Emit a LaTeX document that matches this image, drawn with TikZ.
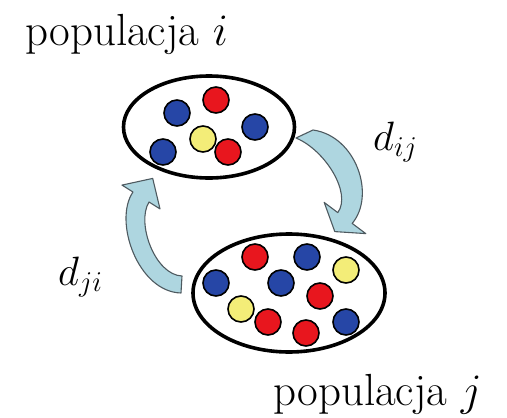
\documentclass[tikz,border=0pt]{standalone}
\usepackage{fix-cm}
\usetikzlibrary{shapes.geometric}
\definecolor{ballblue}{RGB}{38,70,166}
\definecolor{ballred}{RGB}{232,22,30}
\definecolor{ballyellow}{RGB}{243,237,120}
\definecolor{arrowfill}{RGB}{174,214,224}
\definecolor{arrowline}{RGB}{78,90,96}
\tikzset{
  popell/.style={draw=black, line width=3.6pt, ellipse, inner sep=0pt},
  ball/.style={circle, draw=black, line width=1.6pt, minimum size=26pt, inner sep=0pt},
  bb/.style={ball, fill=ballblue},
  br/.style={ball, fill=ballred},
  by/.style={ball, fill=ballyellow},
  flowarrow/.style={fill=arrowfill, draw=arrowline, line width=1.1pt, line join=round},
  poplabel/.style={anchor=base west, inner sep=0pt, font=\fontsize{45}{52}\selectfont},
  ratelabel/.style={anchor=base west, inner sep=0pt, font=\fontsize{41}{48}\selectfont}
}
\begin{document}
\begin{tikzpicture}[x=1pt,y=-1pt]
\useasboundingbox (0,0) rectangle (507,418);
% populations
\node[popell, minimum width=171pt, minimum height=102pt] (popi) at (209,127) {};
\node[popell, minimum width=192pt, minimum height=118pt] (popj) at (289,293) {};
% balls in population i
\node[bb] (i1) at (177,113) {};
\node[br] (i2) at (216,100) {};
\node[bb] (i3) at (255,127) {};
\node[by] (i4) at (203,139) {};
\node[br] (i5) at (228,152) {};
\node[bb] (i6) at (163,152) {};
% balls in population j
\node[br] (j1) at (255,257) {};
\node[bb] (j2) at (307,257) {};
\node[by] (j3) at (346,270) {};
\node[bb] (j4) at (216,283) {};
\node[bb] (j5) at (281,283) {};
\node[br] (j6) at (320,296) {};
\node[by] (j7) at (241,309) {};
\node[br] (j8) at (268,322) {};
\node[br] (j9) at (306,333) {};
\node[bb] (j10) at (346,322) {};
% arrow i -> j
\draw[flowarrow] (296,138) -- (313,130)
  .. controls (356,136) and (376,195) .. (352.2,223.4)
  -- (365.8,233.6) -- (334.8,231.6) -- (324.2,202.4) -- (337.8,212.6)
  .. controls (352,193) and (325,150) .. (296,138) -- cycle;
% arrow j -> i
\draw[flowarrow] (182,276) -- (181,293)
  .. controls (138,292) and (113,221) .. (133,192)
  -- (122,185.1) -- (152.7,178.4) -- (160,208.9) -- (149,202)
  .. controls (136,223) and (155,275) .. (182,276) -- cycle;
% labels
\node[poplabel] (li) at (25,45) {populacja $i$};
\node[poplabel] (lj) at (273,405) {populacja $j$};
\node[ratelabel] (dij) at (373,150) {$d_{ij}$};
\node[ratelabel] (dji) at (58,285) {$d_{ji}$};
\end{tikzpicture}
\end{document}
